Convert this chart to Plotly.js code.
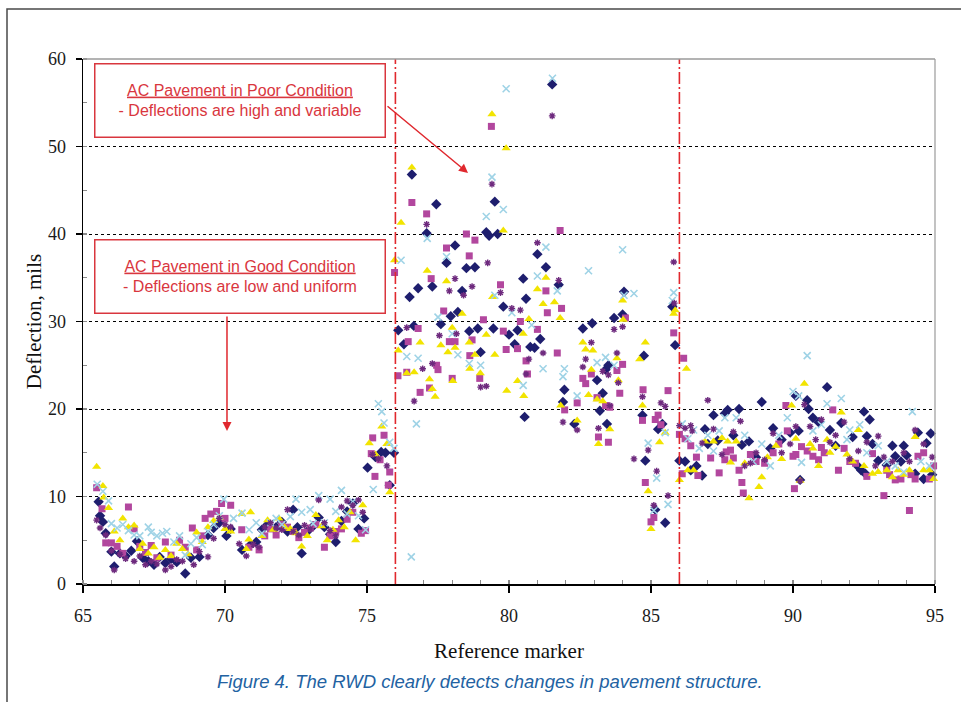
<!DOCTYPE html>
<html>
<head>
<meta charset="utf-8">
<script src="https://cdn.plot.ly/plotly-3.0.1.min.js"></script>
<style>
html,body{margin:0;padding:0;background:#fff;}
#chart{width:961px;height:702px;}
</style>
</head>
<body>
<div id="chart"></div>
<script>
// ---- Data (reference marker, deflection in mils) ----
const run1 = [[65.55,9.4],[65.6,7.8],[65.7,7.1],[65.8,5.8],[66.0,3.7],[66.1,2.0],[66.3,3.5],[66.5,3.2],[66.7,3.8],[66.9,4.9],[67.1,3.0],[67.3,2.6],[67.5,2.2],[67.7,3.1],[67.9,2.4],[68.1,2.9],[68.3,2.5],[68.6,1.2],[68.8,3.0],[69.1,3.1],[69.4,5.6],[69.6,6.4],[69.8,7.0],[70.05,5.5],
[70.2,6.3],[70.6,3.9],[70.9,4.5],[71.1,4.8],[71.3,6.2],[71.5,6.8],[71.8,6.5],[72.0,7.1],[72.2,6.0],[72.4,8.5],[72.55,6.5],[72.7,3.5],[72.9,6.0],[73.1,6.6],[73.3,7.6],[73.5,6.5],[73.7,5.7],[73.9,4.8],[74.1,7.2],[74.3,8.3],[74.5,9.2],[74.7,6.3],[74.9,7.5],[75.02,13.3],[75.3,14.5],[75.5,15.1],[75.65,15.0],[75.8,11.3],[75.95,15.0],
[76.1,29.0],[76.3,27.4],[76.5,32.8],[76.58,46.8],[76.65,29.5],[76.8,33.8],[77.1,40.1],[77.3,34.0],[77.44,43.4],[77.6,29.7],[77.8,36.7],[77.95,30.6],[78.1,38.7],[78.2,31.1],[78.35,33.5],[78.5,36.1],[78.6,28.9],[78.8,36.2],[78.9,29.2],[79.0,26.5],[79.2,40.2],[79.3,39.8],[79.45,29.2],[79.5,43.7],[79.6,40.0],[79.8,31.7],[80.0,28.5],[80.2,27.4],[80.3,29.0],[80.5,34.9],[80.55,19.1],[80.6,32.6],[80.75,27.1],[80.9,27.0],[81.0,37.7],[81.1,28.0],[81.3,36.2],[81.52,57.1],[81.75,34.2],[81.9,20.8],[81.95,22.2],[82.3,18.3],[82.6,29.2],[82.93,29.8],[83.1,23.3],[83.2,19.8],[83.3,21.8],[83.4,24.5],[83.45,18.3],[83.5,25.0],[83.7,30.4],[84.0,30.8],[84.05,33.4],[84.7,19.3],[84.75,26.1],[84.8,14.1],[85.15,8.5],[85.25,17.7],[85.4,18.3],[85.5,7.0],[85.75,31.7],[85.85,27.3],[86.0,14.1],
[86.2,14.0],[86.4,13.0],[86.6,13.5],[86.8,12.4],[86.9,17.7],[87.0,16.0],[87.2,19.3],[87.35,16.4],[87.6,19.5],[87.7,19.9],[87.9,17.0],[88.1,20.0],[88.2,15.9],[88.45,16.3],[88.7,14.5],[88.9,20.8],[89.2,15.5],[89.3,17.8],[89.6,16.5],[89.9,17.3],[90.1,21.5],[90.2,17.5],[90.25,11.9],[90.5,21.0],[90.55,20.0],[90.7,19.0],[90.9,18.5],[91.2,22.5],[91.3,17.6],[91.5,15.8],[91.7,18.4],[92.1,16.8],[92.3,13.4],[92.4,13.0],[92.5,19.7],[92.55,12.6],[92.6,16.9],[92.7,18.8],[92.8,16.0],[93.0,14.1],[93.3,13.6],[93.5,15.8],[93.6,14.6],[93.8,14.0],[93.9,15.8],[94.0,14.7],[94.3,12.6],[94.4,17.3],[94.6,12.0],[94.7,16.1],[94.85,17.2],[94.9,12.5]];

const run2 = [[65.48,11.0],[65.67,8.6],[65.8,4.7],[66.0,4.7],[66.2,4.3],[66.4,3.5],[66.6,8.8],[66.8,6.3],[67.0,4.3],[67.2,3.6],[67.4,4.4],[67.6,3.0],[67.9,4.8],[68.1,3.3],[68.4,5.0],[68.6,4.2],[68.85,6.4],[69.0,3.9],[69.2,5.5],[69.3,7.5],[69.5,8.0],[69.7,8.3],[69.88,9.2],[70.0,7.5],
[70.2,9.0],[70.59,6.2],[70.84,4.2],[71.2,3.9],[71.4,5.5],[71.6,6.3],[71.8,5.6],[72.0,6.8],[72.2,6.5],[72.4,6.0],[72.6,5.3],[72.8,5.9],[73.0,6.4],[73.2,6.8],[73.5,4.2],[73.7,5.5],[73.9,6.0],[74.1,6.3],[74.3,7.4],[74.5,8.2],[74.8,5.8],[74.95,6.1],[75.15,14.9],[75.2,16.7],[75.28,12.3],[75.46,14.2],[75.6,17.0],[75.75,11.3],[75.8,12.8],
[75.97,35.6],[76.09,23.8],[76.4,24.2],[76.45,27.7],[76.58,43.6],[76.8,29.2],[76.87,21.9],[77.1,42.3],[77.2,22.4],[77.26,34.9],[77.45,25.0],[77.5,24.5],[77.7,31.2],[77.8,38.4],[77.9,27.7],[78.0,23.5],[78.1,27.7],[78.5,40.0],[78.6,37.5],[78.62,26.1],[78.7,27.9],[78.8,39.3],[78.97,23.5],[79.1,30.2],[79.38,52.3],[79.7,34.2],[79.8,28.9],[79.9,26.8],[80.3,26.9],[80.4,30.0],[80.6,25.5],[80.65,24.0],[81.0,29.1],[81.3,33.5],[81.35,31.0],[81.7,26.4],[81.8,40.4],[81.85,31.5],[81.96,19.9],[82.4,20.7],[82.6,23.5],[82.7,22.9],[82.9,24.0],[83.1,21.3],[83.15,16.8],[83.4,20.4],[83.5,16.2],[83.55,20.2],[83.8,24.4],[83.9,21.8],[84.0,25.1],[84.1,30.4],[84.7,18.7],[84.72,22.2],[84.8,11.6],[85.0,7.1],[85.1,7.6],[85.15,18.8],[85.25,19.3],[85.35,18.2],[85.6,22.1],[85.8,28.7],[86.0,17.1],
[86.1,12.6],[86.15,25.8],[86.2,16.6],[86.4,15.8],[86.6,14.5],[86.65,12.4],[87.1,14.4],[87.4,12.7],[87.6,14.2],[87.65,15.1],[87.8,15.3],[87.9,14.4],[88.1,13.0],[88.2,11.6],[88.25,10.4],[88.5,14.8],[88.7,14.0],[89.0,13.8],[89.3,15.0],[89.5,16.0],[89.75,20.4],[89.8,17.5],[90.0,14.6],[90.05,10.9],[90.1,14.8],[90.3,15.7],[90.5,15.2],[90.7,14.6],[90.9,14.2],[91.0,15.6],[91.1,15.0],[91.4,19.9],[91.6,13.0],[91.8,15.5],[92.0,14.0],[92.2,13.8],[92.6,12.3],[92.8,14.9],[93.2,10.1],[93.3,13.0],[93.4,12.5],[93.6,11.9],[93.8,12.0],[94.1,8.4],[94.15,12.5],[94.3,12.0],[94.4,14.6],[94.6,15.0],[94.8,12.0],[94.95,13.5]];

const run3 = [[65.48,13.4],[65.7,11.2],[65.73,9.9],[65.9,8.7],[66.1,6.0],[66.3,5.0],[66.4,7.5],[66.6,6.5],[66.8,6.7],[67.0,4.0],[67.1,4.6],[67.3,3.5],[67.5,4.2],[67.7,3.0],[67.9,3.9],[68.1,3.2],[68.3,4.6],[68.5,4.0],[68.7,3.4],[69.0,5.9],[69.2,4.8],[69.4,6.5],[69.6,7.2],[69.8,7.6],[70.0,6.3],
[70.2,6.0],[70.59,8.0],[70.75,4.0],[70.84,5.1],[70.9,8.2],[71.3,5.5],[71.5,7.3],[71.7,6.2],[71.9,7.5],[72.1,6.5],[72.3,6.3],[72.5,5.8],[72.7,4.3],[72.9,5.5],[73.2,7.9],[73.4,6.6],[73.6,5.0],[73.8,6.2],[74.0,7.3],[74.2,6.5],[74.4,8.2],[74.6,5.0],[74.85,9.0],[75.08,16.1],[75.3,14.8],[75.52,18.0],[75.7,16.0],[75.8,10.5],
[75.97,37.0],[76.1,26.7],[76.2,41.3],[76.4,24.1],[76.58,47.6],[76.66,24.2],[76.87,27.6],[77.12,35.8],[77.2,23.4],[77.3,22.3],[77.4,21.4],[77.6,27.3],[77.8,34.6],[77.85,26.5],[78.0,29.3],[78.02,23.2],[78.1,27.0],[78.35,30.9],[78.6,27.6],[78.62,24.6],[78.8,26.2],[78.99,24.1],[79.2,28.5],[79.4,53.7],[79.42,32.8],[79.5,26.2],[79.8,40.4],[79.9,49.8],[79.92,22.1],[80.3,23.2],[80.5,28.6],[80.52,21.5],[80.7,30.3],[81.0,33.7],[81.2,32.0],[81.3,35.0],[81.6,32.2],[81.8,30.4],[81.82,20.4],[82.4,18.7],[82.6,27.6],[82.7,26.8],[82.8,21.6],[82.9,24.5],[82.95,26.7],[83.1,21.1],[83.15,16.0],[83.3,20.9],[83.55,17.7],[83.8,25.8],[83.85,23.3],[84.0,32.4],[84.02,30.2],[84.6,25.7],[84.7,20.4],[84.8,27.6],[84.9,10.6],[85.0,6.3],[85.3,16.2],[85.5,17.3],[85.8,30.9],[85.85,31.3],[86.0,11.9],[86.25,24.6],
[86.3,13.0],[86.5,13.0],[86.9,16.3],[87.2,16.3],[87.5,16.7],[87.7,16.3],[87.8,13.9],[88.0,16.3],[88.3,13.8],[88.45,9.8],[88.8,11.1],[88.9,12.2],[89.1,14.5],[89.4,15.8],[89.6,14.3],[89.95,20.4],[90.1,16.6],[90.25,11.8],[90.4,22.9],[90.6,16.0],[90.7,15.5],[90.9,13.5],[91.2,16.5],[91.3,15.0],[91.5,15.7],[91.7,19.6],[91.9,14.8],[92.1,14.0],[92.3,17.6],[92.5,13.5],[92.8,12.6],[93.0,12.8],[93.3,13.0],[93.5,12.2],[93.7,13.0],[93.9,12.5],[94.1,13.0],[94.3,16.8],[94.6,13.0],[94.8,13.0],[94.95,12.0]];

const run4 = [[65.5,11.4],[65.7,10.6],[65.9,9.5],[66.0,6.9],[66.2,6.4],[66.4,6.8],[66.6,6.1],[66.8,5.6],[67.0,5.5],[67.3,6.5],[67.4,5.9],[67.6,5.5],[67.8,5.8],[67.95,6.0],[68.2,4.8],[68.4,5.5],[68.6,3.3],[68.8,4.6],[69.0,5.3],[69.2,4.5],[69.4,6.0],[69.6,6.8],[69.8,7.8],[69.96,9.7],
[70.3,7.5],[70.6,8.1],[70.85,6.2],[71.1,7.0],[71.3,5.8],[71.6,7.0],[71.8,7.5],[72.0,6.8],[72.3,7.7],[72.5,9.7],[72.7,8.2],[73.0,8.5],[73.1,6.9],[73.3,10.1],[73.5,7.0],[73.7,9.7],[73.9,8.3],[74.1,10.7],[74.3,8.0],[74.5,9.4],[74.7,7.8],[74.95,6.2],[75.22,10.8],[75.4,20.6],[75.52,19.7],[75.6,18.4],[75.8,16.2],[75.95,15.5],
[76.2,37.0],[76.4,26.0],[76.56,3.1],[76.74,18.3],[76.8,25.8],[77.12,39.5],[77.5,30.5],[77.8,37.4],[78.0,28.6],[78.2,26.2],[78.6,25.2],[79.0,25.0],[79.2,42.0],[79.4,46.5],[79.5,33.0],[79.8,42.8],[79.9,56.6],[80.1,31.0],[80.5,22.7],[80.8,29.6],[81.0,35.2],[81.2,24.6],[81.3,38.5],[81.53,57.8],[81.7,33.5],[81.9,23.7],[81.95,24.6],[82.4,21.5],[82.8,35.8],[83.1,25.3],[83.4,25.9],[83.7,25.0],[84.0,38.2],[84.05,33.0],[84.4,33.2],[84.9,16.1],[85.1,8.4],[85.2,12.1],[85.5,17.3],[85.6,9.1],[85.75,32.4],[85.8,33.3],[86.1,18.3],
[86.3,16.6],[86.5,17.6],[86.7,15.5],[87.0,17.0],[87.2,15.2],[87.4,17.5],[87.6,19.0],[88.0,19.0],[88.3,17.0],[88.6,14.0],[88.9,16.0],[89.2,13.5],[89.5,17.0],[89.8,19.0],[90.0,22.0],[90.2,21.5],[90.3,13.9],[90.5,26.1],[90.7,17.5],[91.0,18.2],[91.2,20.6],[91.7,21.2],[91.9,16.5],[92.0,17.6],[92.35,18.2],[92.6,15.0],[93.0,15.8],[93.3,14.0],[93.6,13.5],[93.9,12.8],[94.2,19.7],[94.5,14.0],[94.8,13.5]];

const run5 = [[65.48,7.3],[65.6,6.4],[65.8,5.6],[66.0,3.8],[66.1,1.6],[66.3,3.4],[66.5,2.9],[66.8,2.6],[67.0,3.2],[67.2,2.2],[67.4,2.6],[67.6,2.3],[67.9,1.6],[68.1,2.0],[68.3,2.8],[68.5,2.6],[68.9,2.2],[69.1,3.7],[69.4,3.1],[69.6,5.2],[69.8,7.5],[70.0,6.8],
[70.2,6.5],[70.5,4.6],[70.75,3.2],[71.0,4.5],[71.2,4.2],[71.4,6.5],[71.6,7.0],[71.8,6.4],[72.0,6.2],[72.2,8.5],[72.4,6.0],[72.6,5.6],[72.8,6.7],[73.0,6.3],[73.3,9.6],[73.5,7.0],[73.7,6.1],[73.9,5.5],[74.1,8.8],[74.3,9.5],[74.5,9.0],[74.7,9.6],[74.85,8.2],[75.2,14.8],[75.4,14.3],[75.7,13.5],
[76.4,29.3],[76.66,20.9],[76.96,24.6],[77.1,41.1],[77.3,25.2],[77.55,28.4],[77.9,33.5],[78.1,34.9],[78.15,28.6],[78.4,33.0],[78.7,34.0],[79.0,22.5],[79.2,22.6],[79.25,36.7],[79.4,45.7],[79.7,33.3],[80.1,31.5],[80.4,31.3],[80.6,24.0],[80.7,25.7],[81.0,39.0],[81.2,26.4],[81.52,53.5],[81.75,34.7],[81.9,18.5],[82.4,17.6],[82.6,24.8],[82.7,25.7],[82.9,27.6],[83.15,17.8],[83.3,24.3],[83.5,23.9],[83.55,20.4],[83.7,29.1],[83.8,26.4],[83.85,23.0],[84.0,29.4],[84.4,14.3],[84.7,21.4],[84.9,15.3],[85.1,9.0],[85.2,12.9],[85.35,20.7],[85.5,20.3],[85.6,10.1],[85.8,36.8],[85.82,32.1],[86.0,18.1],
[86.2,17.8],[86.4,18.1],[86.45,17.5],[86.8,16.1],[87.0,21.0],[87.2,17.7],[87.5,14.8],[87.9,17.4],[88.15,18.6],[88.3,13.5],[88.5,13.8],[88.7,15.0],[89.0,14.2],[89.3,17.2],[89.6,15.0],[89.9,16.0],[90.1,18.0],[90.25,11.8],[90.4,20.5],[90.6,18.0],[90.8,16.5],[91.0,18.8],[91.3,16.2],[91.5,17.0],[91.8,18.5],[92.0,14.3],[92.3,15.2],[92.6,16.2],[92.9,13.5],[93.0,16.9],[93.2,14.5],[93.5,14.0],[93.9,15.0],[94.1,14.0],[94.3,17.6],[94.6,16.0],[94.9,14.5]];

// Section boundaries (reference markers where the pavement condition changes)
const boundaries = [76, 86];

const xTitle = 'Reference marker';
const yTitle = 'Deflection, mils';
const caption = 'Figure 4. The RWD clearly detects changes in pavement structure.';
const notePoor = ['AC Pavement in Poor Condition', '- Deflections are high and variable'];
const noteGood = ['AC Pavement in Good Condition', '- Deflections are low and uniform'];

// ---- Styles ----
const seriesDefs = [
  {name: 'Run 1', data: run1, marker: {symbol: 'diamond', size: 8, color: '#1e1e6e'}},
  {name: 'Run 2', data: run2, marker: {symbol: 'square', size: 7, color: '#b2479e'}},
  {name: 'Run 3', data: run3, marker: {symbol: 'triangle-up', size: 8, color: '#f2e400'}},
  {name: 'Run 4', data: run4, marker: {symbol: 'x-thin-open', size: 7, color: '#9fd3e6', line: {color: '#9fd3e6', width: 1.6}}},
  {name: 'Run 5', data: run5, marker: {symbol: 'asterisk-open', size: 5.5, color: '#6e2a7e', line: {color: '#6e2a7e', width: 1.4}}}
];

const traces = seriesDefs.map(s => ({
  type: 'scatter', mode: 'markers', name: s.name,
  x: s.data.map(p => p[0]), y: s.data.map(p => p[1]),
  marker: s.marker, cliponaxis: false, hoverinfo: 'x+y'
}));

const red = '#d9363e';
const serif = '"Liberation Serif", "Times New Roman", serif';
const sans = '"Liberation Sans", Arial, sans-serif';

const shapes = boundaries.map(b => ({
  type: 'line', xref: 'x', yref: 'paper', x0: b, x1: b, y0: 0, y1: 1,
  line: {color: '#e0282e', width: 1.6, dash: '12px,3px,2px,3px'}
}));
// plot frame (top/right) and outer figure frame
shapes.push({type: 'line', xref: 'paper', yref: 'paper', x0: 0, x1: 1, y0: 1, y1: 1, line: {color: '#9a9a9a', width: 1.6}});
shapes.push({type: 'line', xref: 'paper', yref: 'paper', x0: 1, x1: 1, y0: 0, y1: 1, line: {color: '#9a9a9a', width: 1.2}});
shapes.push({type: 'path', xref: 'paper', yref: 'paper',
  path: 'M -0.0892,-0.3 L -0.0892,1.0952 L 1.1,1.0952', line: {color: '#4a4a4a', width: 1.5}});

const annotations = [
  {xref: 'paper', yref: 'paper', x: 0.1837, y: 0.92, xanchor: 'center', yanchor: 'middle',
   text: '<u>' + notePoor[0] + '</u><br>' + notePoor[1], showarrow: false, align: 'center',
   width: 289, height: 72, bordercolor: red, borderwidth: 1.5, borderpad: 0, bgcolor: '#ffffff',
   font: {family: sans, size: 16, color: red}},
  {xref: 'paper', yref: 'paper', x: 0.1837, y: 0.5848, xanchor: 'center', yanchor: 'middle',
   text: '<u>' + noteGood[0] + '</u><br>' + noteGood[1], showarrow: false, align: 'center',
   width: 289, height: 72, bordercolor: red, borderwidth: 1.5, borderpad: 0, bgcolor: '#ffffff',
   font: {family: sans, size: 16, color: red}},
  {xref: 'paper', yref: 'paper', x: 0.4519, y: 0.7829, text: '', showarrow: true,
   axref: 'pixel', ayref: 'pixel', ax: -82, ay: -68, arrowcolor: '#e0282e', arrowwidth: 1.5, arrowhead: 2, arrowsize: 1.2, standoff: 0},
  {xref: 'paper', yref: 'paper', x: 0.169, y: 0.2914, text: '', showarrow: true,
   axref: 'pixel', ayref: 'pixel', ax: 0, ay: -116, arrowcolor: '#e0282e', arrowwidth: 1.5, arrowhead: 2, arrowsize: 1.2, standoff: 0},
  {xref: 'paper', yref: 'paper', x: 0.4777, y: -0.186, xanchor: 'center', yanchor: 'middle',
   text: '<i>' + caption + '</i>', showarrow: false,
   font: {family: sans, size: 18.5, color: '#2262a2'}}
];

const layout = {
  width: 961, height: 702,
  margin: {l: 83, r: 26, t: 59, b: 118},
  paper_bgcolor: '#ffffff', plot_bgcolor: '#ffffff',
  showlegend: false,
  xaxis: {
    range: [65, 95], dtick: 5, tick0: 65,
    showline: true, linecolor: '#000', linewidth: 1.5,
    ticks: 'outside', ticklen: 7, tickcolor: '#000', tickwidth: 1.3,
    ticklabelstandoff: 8,
    tickfont: {family: serif, size: 18, color: '#1a1a1a'},
    showgrid: false, zeroline: false,
    minor: {dtick: 1, ticks: 'inside', ticklen: 4, tickcolor: '#8a8a8a', showgrid: false},
    title: {text: xTitle, font: {family: serif, size: 21, color: '#111'}, standoff: 18}
  },
  yaxis: {
    range: [0, 60], dtick: 10,
    showline: true, linecolor: '#000', linewidth: 1.5,
    ticks: 'outside', ticklen: 6, tickcolor: '#000', tickwidth: 1.3,
    ticklabelstandoff: 6,
    tickfont: {family: serif, size: 18, color: '#1a1a1a'},
    showgrid: true, gridcolor: '#000', gridwidth: 1, griddash: '3px,3px',
    zeroline: false,
    minor: {dtick: 5, ticks: 'inside', ticklen: 4, tickcolor: '#8a8a8a', showgrid: false},
    title: {text: yTitle, font: {family: serif, size: 21, color: '#111'}, standoff: 0}
  },
  shapes: shapes,
  annotations: annotations
};

Plotly.newPlot('chart', traces, layout, {displayModeBar: false, staticPlot: true});
</script>
</body>
</html>
